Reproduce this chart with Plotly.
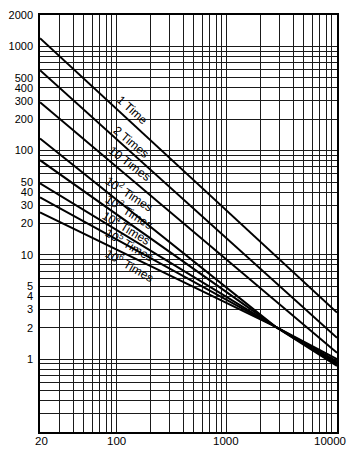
import numpy as np
import plotly.graph_objects as go

# ---- data ----
series_names = ["1 Time", "2 Times", "10 Times", "10<sup>2</sup> Times", "10<sup>3</sup> Times",
                "10<sup>4</sup> Times", "10<sup>5</sup> Times", "10<sup>6</sup> Times"]
x_points = [
    [20, 10000],
    [20, 10000],
    [20, 10000],
    [20, 2750, 10000],
    [20, 2750, 10000],
    [20, 2750, 10000],
    [20, 2750, 10000],
    [20, 2750, 10000],
]
y_points = [
    [1200, 2.8],
    [590, 1.6],
    [291, 1.15],
    [131, 2.05, 1.0],
    [81, 2.05, 0.95],
    [48.5, 2.05, 0.92],
    [35.6, 2.05, 0.89],
    [25.5, 2.05, 0.86],
]
x_tick_labels = {20: "20", 100: "100", 1000: "1000", 10000: "10000"}
y_tick_labels = {2000: "2000", 1000: "1000", 500: "500", 400: "400", 300: "300", 200: "200",
                 100: "100", 50: "50", 40: "40", 30: "30", 20: "20", 10: "10", 5: "5",
                 4: "4", 3: "3", 2: "2", 1: "1"}

# ---- label placement (paper coords) and angles ----
label_pos = [(0.310, 0.772, 42), (0.306, 0.695, 40), (0.303, 0.642, 37), (0.300, 0.573, 33),
             (0.300, 0.530, 32), (0.290, 0.491, 31), (0.300, 0.450, 30), (0.303, 0.400, 30)]
x_label_shift = {20: 1, 100: 0, 1000: -1, 10000: -7}

FONT = "Liberation Sans, Arial, sans-serif"

fig = go.Figure()
for xs, ys in zip(x_points, y_points):
    fig.add_trace(go.Scatter(x=xs, y=ys, mode="lines",
                             line=dict(color="black", width=2), showlegend=False,
                             hoverinfo="skip"))

# grid values: 1..9 x each decade
def grid_vals(lo, hi):
    vals = []
    for e in range(-2, 6):
        for m in range(1, 10):
            v = m * 10.0 ** e
            if lo - 1e-9 <= v <= hi + 1e-9:
                vals.append(round(v, 6))
    return vals

xg = grid_vals(20, 10000)
yg = grid_vals(0.2, 2000)

def lab(d, v):
    if v >= 1 and float(v).is_integer():
        return d.get(int(v), "")
    return ""

fig.update_xaxes(type="log", range=[np.log10(20), 4], automargin=False,
                 tickvals=xg, showticklabels=False,
                 showgrid=True, gridcolor="#1a1a1a", gridwidth=1,
                 showline=True, linecolor="black", linewidth=1.5, mirror=True,
                 ticks="", zeroline=False)
fig.update_yaxes(type="log", range=[np.log10(0.2), np.log10(2000)], automargin=False,
                 tickvals=yg,
                 ticktext=[lab(y_tick_labels, v) for v in yg],
                 showgrid=True, gridcolor="#1a1a1a", gridwidth=1,
                 showline=True, linecolor="black", linewidth=1.5, mirror=True,
                 ticks="", zeroline=False, ticklabelstandoff=3,
                 tickfont=dict(family=FONT, size=11, color="black"))

# x tick labels (kept inside the page as in the reference)
for xv, txt in x_tick_labels.items():
    fig.add_annotation(x=np.log10(xv), y=0, xref="x", yref="paper", text=txt,
                       showarrow=False, xanchor="center", yanchor="top",
                       xshift=x_label_shift[xv], yshift=-1,
                       font=dict(family=FONT, size=11.5, color="black"))

for name, (px, py, ang) in zip(series_names, label_pos):
    fig.add_annotation(x=px, y=py, xref="paper", yref="paper", text=name,
                       showarrow=False, textangle=ang, xanchor="center", yanchor="middle",
                       font=dict(family=FONT, size=12, color="black"))

fig.update_layout(width=352, height=450, margin=dict(l=40, r=15, t=15, b=18),
                  paper_bgcolor="white", plot_bgcolor="white")

fig.write_html("out.html")
